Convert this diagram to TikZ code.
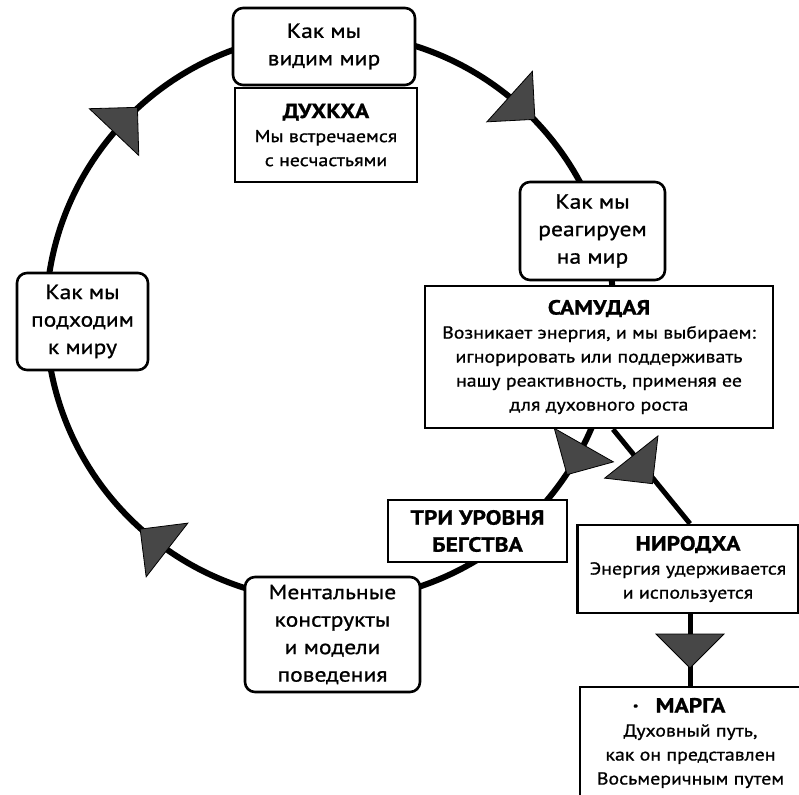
\documentclass[tikz,border=0pt]{standalone}
\usepackage{fontspec}
\setmainfont{PT Sans}[FakeStretch=1.15, FakeBold=0.9]
\newcommand\labelfont{\fontsize{20.5}{27.5}\selectfont}
\newcommand\bodyfont{\fontsize{17.3}{24}\selectfont}
\newcommand\titlefont{\fontsize{20.5}{27}\selectfont\bfseries}
% flat triangular arrow head: #1 shift list, #2 screen direction (clockwise, y down)
\newcommand\flattip[2]{%
  \begin{scope}[#1, rotate=-#2]
    \filldraw[headtip] (-14,-34) -- (-14,34) -- (20,0) -- cycle;
  \end{scope}}
\begin{document}
\begin{tikzpicture}[x=1pt,y=-1pt,
  ring/.style={line width=6pt},
  link/.style={line width=5pt},
  roundbox/.style={draw, line width=2.6pt, rounded corners=10pt, fill=white,
    inner sep=0pt, align=center, font=\labelfont},
  plainbox/.style={draw, line width=2.6pt, fill=white, inner sep=0pt,
    align=center, font=\bodyfont},
  headtip/.style={fill=black!72, draw=black, line width=0.8pt, line join=miter},
]
\useasboundingbox (0,0) rectangle (799,794);
\clip (0,0) rectangle (799,794);

% the cycle
\coordinate (C) at (330,317);
\draw[ring] (C) circle[radius=284];

% boxes on the cycle
\node[roundbox, minimum width=182pt, minimum height=77pt] (see) at (324,46.5)
  {Как мы\\видим мир};
\node[plainbox, minimum width=182pt, minimum height=94pt] (dukkha) at (326,135)
  {{\titlefont ДУХКХА}\\Мы встречаемся\\с несчастьями};
\node[roundbox, minimum width=145pt, minimum height=98pt] (react) at (592.5,231)
  {Как мы\\реагируем\\на мир};
\node[plainbox, minimum width=348pt, minimum height=142pt] (samudaya) at (599,357)
  {{\titlefont САМУДАЯ}\\Возникает энергия, и мы выбираем:\\игнорировать или поддерживать\\нашу реактивность, применяя ее\\для духовного роста};
\node[roundbox, minimum width=131pt, minimum height=97pt] (approach) at (82.5,321.5)
  {Как мы\\подходим\\к миру};
\node[roundbox, minimum width=175pt, minimum height=115pt] (mental) at (332.5,634.5)
  {Ментальные\\конструкты\\и модели\\поведения};
\node[plainbox, font=\titlefont, minimum width=179pt, minimum height=62pt] (escape) at (477.5,531)
  {ТРИ УРОВНЯ\\БЕГСТВА};

% the branch leading out of the cycle
\node[plainbox, minimum width=221pt, minimum height=88pt] (nirodha) at (688,569)
  {{\titlefont НИРОДХА}\\Энергия удерживается\\и используется};
\node[plainbox, minimum width=221pt, minimum height=112pt] (marga) at (690.5,743)
  {{\titlefont\llap{·\hspace{17pt}}МАРГА}\\Духовный путь,\\как он представлен\\Восьмеричным путем};

\draw[link] ([xshift=14pt]samudaya.south) -- ([xshift=2pt]nirodha.north);
\draw[link] ([xshift=2pt]nirodha.south) -- ([xshift=-0.5pt]marga.north);

% arrow heads along the cycle
\flattip{shift={(C)}, shift={(-48:284)}}{42}
\flattip{shift={(C)}, shift={(29.6:284)}}{119.6}
\flattip{shift={(C)}, shift={(127.8:284)}}{217.8}
\flattip{shift={(C)}, shift={(223.4:284)}}{313.4}
% arrow heads on the branch
\flattip{shift={(640,468)}}{51.6}
\flattip{shift={(690,648)}}{90}
\end{tikzpicture}
\end{document}
